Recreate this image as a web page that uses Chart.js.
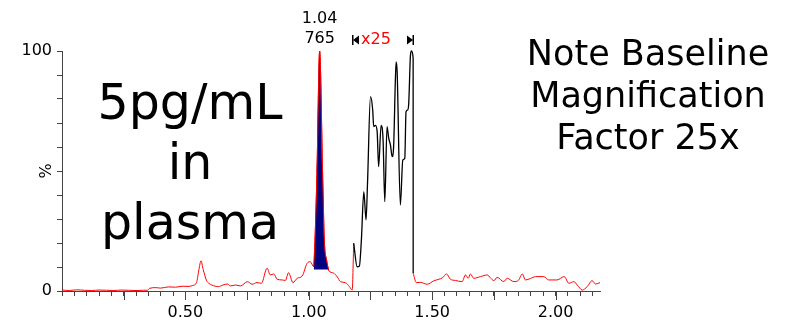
<!DOCTYPE html>
<html>
<head>
<meta charset="utf-8">
<script src="https://cdn.jsdelivr.net/npm/chart.js@4/dist/chart.umd.min.js"></script>
<style>
  html, body { margin: 0; padding: 0; background: #fff; }
</style>
</head>
<body>
<canvas id="chrom" width="787" height="323"></canvas>
<script>
/* ===== chromatogram data ===== */

// baseline trace, red; null = magnified region drawn in black
const baseX = [0.00, 0.03, 0.06, 0.09, 0.12, 0.15, 0.18, 0.21, 0.24, 0.27, 0.30, 0.33, 0.346,
  0.355, 0.38, 0.40, 0.43, 0.46, 0.49, 0.51, 0.53, 0.545, 0.555, 0.563, 0.572, 0.585, 0.595,
  0.607, 0.634, 0.652, 0.671, 0.682, 0.703, 0.723, 0.752, 0.770, 0.790, 0.808, 0.831, 0.844,
  0.858, 0.872, 0.892, 0.905, 0.918, 0.936, 0.953, 0.973, 0.993, 1.006,
  1.020, 1.025, 1.033, 1.044, 1.056, 1.063, 1.072, 1.081,
  1.100, 1.116, 1.128, 1.148, 1.165, 1.176, 1.182, 1.30,
  1.423, 1.436, 1.452, 1.480, 1.506, 1.527, 1.542, 1.558, 1.574, 1.594, 1.621, 1.635, 1.646,
  1.655, 1.668, 1.696, 1.723, 1.736, 1.750, 1.763, 1.790, 1.804, 1.831, 1.850, 1.865, 1.878,
  1.898, 1.919, 1.952, 1.972, 2.006, 2.035, 2.054, 2.074, 2.088, 2.108, 2.128, 2.148, 2.162, 2.180];
const baseY = [0.4, 0.2, 0.5, 0.3, 0.2, 0.4, 0.3, 0.2, 0.4, 0.3, 0.2, 0.3, 0.3,
  1.1, 1.4, 1.2, 1.7, 1.6, 2.0, 1.9, 2.3, 3.5, 9, 12.6, 9, 4.5, 3.2,
  2.5, 1.8, 2.5, 2.9, 2.1, 2.5, 2.1, 3.9, 2.8, 3.5, 3.2, 9.5, 6.7,
  7.1, 4.9, 4.6, 4.4, 7.6, 3.5, 5.3, 6.2, 11.5, 12.2,
  10.1, 21, 49, 100, 49, 21, 13, 8.5,
  7.5, 5.8, 3.9, 3.5, 1.8, 0.4, 19.9, null,
  7.4, 3.5, 3.6, 2.8, 4.2, 4.9, 5.5, 7.1, 4.9, 4.4, 3.9, 6.7, 5.3,
  7.1, 5.3, 6.0, 6.7, 5.5, 4.3, 5.7, 3.9, 5.3, 3.9, 4.5, 7.1, 4.6,
  5.2, 6.0, 6.0, 4.6, 4.6, 6.0, 3.2, 3.9, 2.5, 0.4, 1.8, 4.3, 2.9, 3.5];

// x25 magnified section, black
const magX = [1.182, 1.196, 1.205, 1.213, 1.223, 1.232, 1.238, 1.250, 1.259, 1.263, 1.270,
  1.277, 1.283, 1.293, 1.301, 1.308, 1.317, 1.324, 1.331, 1.338, 1.344, 1.351, 1.354, 1.358,
  1.371, 1.381, 1.389, 1.394, 1.401, 1.405, 1.412, 1.416, 1.4228, 1.423];
const magY = [19.9, 10.1, 10.4, 21, 41.4, 29.6, 45, 81, 75.4, 68.5, 69,
  66.4, 51.8, 69, 62.9, 37.2, 68.5, 63.6, 60.8, 56, 60.8, 88.6, 95.5, 91.4,
  35.8, 54.6, 55.3, 74.7, 75.4, 78.2, 98.3, 100, 97, 7.4];

// integrated peak window
const peakStart = 1.020;
const peakEnd = 1.081;
const peakLabels = ["1.04", "765"];

// magnification window
const magStart = 1.18;
const magEnd = 1.423;
const magLabel = "x25";

// axis ticks
const xLabelVals = [0.5, 1.0, 1.5, 2.0];
const xLabels = ["0.50", "1.00", "1.50", "2.00"];
const yLabelVals = [0, 100];
const yLabels = ["0", "100"];

// notes on the plot
const sampleLines = ["5pg/mL", "in", "plasma"];
const noteLines = ["Note Baseline", "Magnification", "Factor 25x"];

/* ===== build points ===== */

const basePts = baseX.map((x, i) => ({ x: x, y: baseY[i] }));
const magPts = magX.map((x, i) => ({ x: x, y: magY[i] }));
const peakPts = basePts.filter(p => p.x >= peakStart && p.x <= peakEnd);

const xMinorTicks = [];
for (let i = 0; i <= 43; i++) xMinorTicks.push(+(i * 0.05).toFixed(2));

const FONT = "DejaVu Sans";

/* ===== extra drawing: big ticks, labels, notes ===== */

const notesPlugin = {
  id: "notes",
  afterDraw(chart) {
    const ctx = chart.ctx;
    const xs = chart.scales.x;
    const area = chart.chartArea;
    ctx.save();

    // long ticks every 0.25
    ctx.strokeStyle = "#444";
    ctx.lineWidth = 1;
    ctx.beginPath();
    for (let v = 0.25; v < 2.18; v += 0.25) {
      const px = Math.round(xs.getPixelForValue(v)) + 0.5;
      ctx.moveTo(px, area.bottom);
      ctx.lineTo(px, area.bottom + 9);
    }
    ctx.stroke();

    // peak label above apex
    let top = peakPts[0];
    peakPts.forEach(p => { if (p.y > top.y) top = p; });
    const pkx = xs.getPixelForValue(top.x);
    ctx.fillStyle = "#000";
    ctx.textAlign = "center";
    ctx.textBaseline = "middle";
    ctx.font = "16px '" + FONT + "'";
    ctx.fillText(peakLabels[0], pkx, 19);
    ctx.fillText(peakLabels[1], pkx, 39);

    // magnification markers
    const x0 = Math.round(xs.getPixelForValue(magStart));
    const x1 = Math.round(xs.getPixelForValue(magEnd));
    ctx.fillRect(x0 - 1, 35, 1.5, 10);
    ctx.beginPath();
    ctx.moveTo(x0, 40);
    ctx.lineTo(x0 + 6, 35.5);
    ctx.lineTo(x0 + 6, 44.5);
    ctx.closePath();
    ctx.fill();
    ctx.fillRect(x1 - 0.5, 35, 1.5, 10);
    ctx.beginPath();
    ctx.moveTo(x1, 40);
    ctx.lineTo(x1 - 6, 35.5);
    ctx.lineTo(x1 - 6, 44.5);
    ctx.closePath();
    ctx.fill();
    ctx.fillStyle = "#ff0000";
    ctx.textAlign = "left";
    ctx.fillText(magLabel, x0 + 8, 40);

    // big notes
    ctx.fillStyle = "#000";
    ctx.textAlign = "center";
    ctx.font = "49px '" + FONT + "'";
    sampleLines.forEach((t, i) => ctx.fillText(t, 190, 106 + i * 60));
    ctx.font = "35px '" + FONT + "'";
    noteLines.forEach((t, i) => ctx.fillText(t, 648, 56 + i * 42));

    ctx.restore();
  }
};

/* ===== chart ===== */

new Chart(document.getElementById("chrom").getContext("2d"), {
  type: "line",
  data: {
    datasets: [
      {
        data: peakPts,
        borderColor: "#ff0000",
        borderWidth: 1,
        backgroundColor: "#000080",
        fill: { value: 9 },
        pointRadius: 0,
        cubicInterpolationMode: "monotone",
        clip: 6
      },
      {
        data: magPts,
        borderColor: "#000",
        borderWidth: 1.3,
        pointRadius: 0,
        fill: false,
        cubicInterpolationMode: "monotone",
        clip: 6
      },
      {
        data: basePts,
        borderColor: "#ff0000",
        borderWidth: 1,
        pointRadius: 0,
        fill: false,
        spanGaps: false,
        cubicInterpolationMode: "monotone",
        clip: 6
      }
    ]
  },
  options: {
    responsive: false,
    animation: false,
    layout: { padding: { left: 0, top: 51, right: 187, bottom: 0 } },
    plugins: {
      legend: { display: false },
      tooltip: { enabled: false }
    },
    scales: {
      x: {
        type: "linear",
        min: 0,
        max: 2.18,
        afterBuildTicks: s => { s.ticks = xMinorTicks.map(v => ({ value: v })); },
        afterFit: s => { s.height = 32; },
        grid: { drawOnChartArea: false, tickLength: 5, color: "#444" },
        border: { color: "#444" },
        ticks: {
          autoSkip: false,
          maxRotation: 0,
          padding: 7,
          color: "#000",
          font: { family: FONT, size: 16 },
          callback: v => {
            const k = xLabelVals.findIndex(l => Math.abs(l - v) < 1e-6);
            return k >= 0 ? xLabels[k] : "";
          }
        }
      },
      y: {
        min: 0,
        max: 100,
        afterFit: s => { s.width = 62; },
        grid: { drawOnChartArea: false, tickLength: 5, color: "#444" },
        border: { color: "#444" },
        title: {
          display: true,
          text: "%",
          color: "#000",
          font: { family: FONT, size: 16 },
          padding: { top: 37, bottom: 0 }
        },
        ticks: {
          stepSize: 10,
          autoSkip: false,
          padding: 5,
          color: "#000",
          font: { family: FONT, size: 16 },
          callback: v => {
            const k = yLabelVals.indexOf(v);
            return k >= 0 ? yLabels[k] : "";
          }
        }
      }
    }
  },
  plugins: [notesPlugin]
});
</script>
</body>
</html>
